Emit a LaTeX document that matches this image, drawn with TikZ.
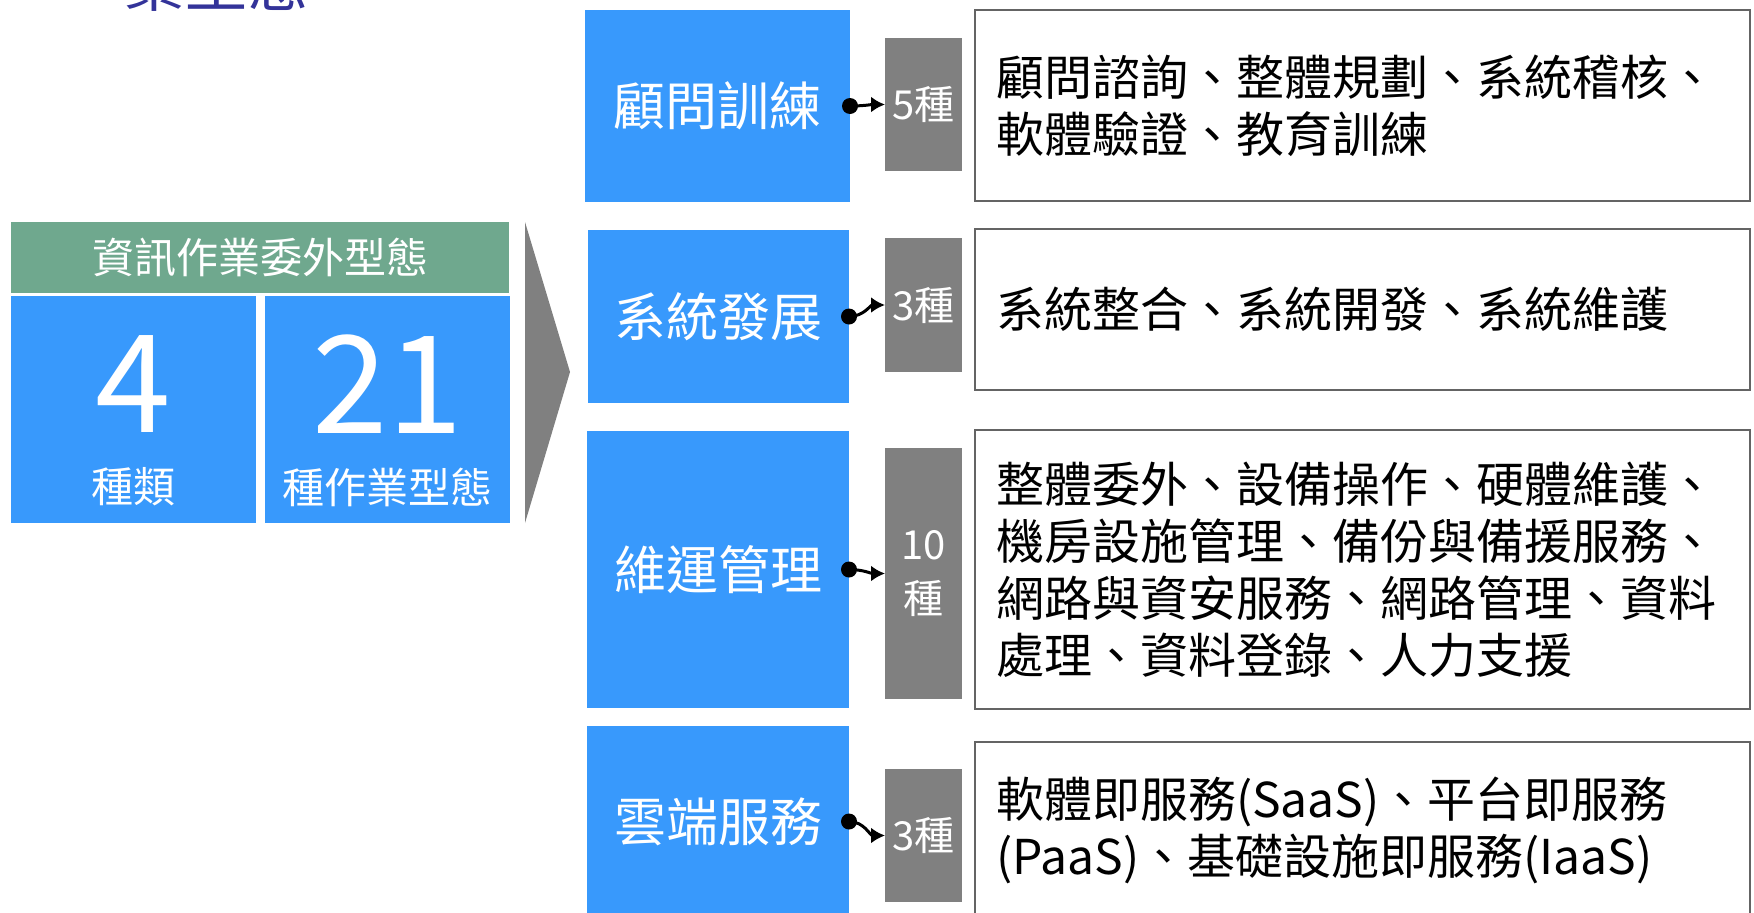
\documentclass[tikz,border=0pt]{standalone}
\usepackage{fontspec}
\setmainfont{Noto Sans CJK TC}
\usetikzlibrary{arrows.meta}
\definecolor{boxblue}{RGB}{56,153,252}
\definecolor{hgreen}{RGB}{111,168,142}
\definecolor{kgray}{RGB}{128,128,128}
\definecolor{titleblue}{RGB}{51,51,153}
\definecolor{wborder}{RGB}{100,100,100}
\begin{document}
\begin{tikzpicture}[x=1pt,y=-1pt,
  solid box/.style={inner sep=0pt, outer sep=0pt, anchor=north west, text=white},
  headbox/.style={solid box, fill=hgreen, font=\fontsize{42pt}{50pt}\selectfont},
  numbox/.style={solid box, fill=boxblue},
  bignum/.style={inner sep=0pt, text=white, font=\fontsize{136pt}{136pt}\selectfont},
  numcap/.style={inner sep=0pt, text=white, font=\fontsize{42pt}{50pt}\selectfont},
  catbox/.style={solid box, fill=boxblue, font=\fontsize{52pt}{62pt}\selectfont},
  countbox/.style={solid box, fill=kgray, align=center, font=\fontsize{40pt}{54pt}\selectfont},
  listbox/.style={draw=wborder, line width=2pt, fill=white, anchor=north west,
    inner xsep=21pt, inner ysep=0pt, outer sep=0pt, text width=733pt, align=left,
    font=\fontsize{48pt}{57pt}\selectfont},
  conn/.style={line width=3pt, -{Latex[length=14pt,width=16pt]}},
  dotc/.style={fill=black}
]
\useasboundingbox (0,0) rectangle (1754,913);
\clip (0,0) rectangle (1754,913);
\fill[white] (0,0) rectangle (1754,913);

% title (cut off at top)
\node[anchor=base west, inner sep=0pt, text=titleblue, font=\fontsize{62pt}{62pt}\selectfont] (title) at (123,6) {業型態};

% left summary
\node[headbox, minimum width=498pt, minimum height=71pt] (head) at (11,222) {資訊作業委外型態};
\node[numbox, minimum width=245pt, minimum height=227pt] (n4) at (11,296) {};
\node[numbox, minimum width=245pt, minimum height=227pt] (n21) at (265,296) {};
\node[bignum] (n4num) at (133.5,384) {4};
\node[numcap] (n4cap) at (133.5,487) {種類};
\node[bignum] (n21num) at (387.5,384) {21};
\node[numcap] (n21cap) at (387.5,487) {種作業型態};

% chevron
\fill[kgray] (525,222) -- (570,372) -- (525,523) -- cycle;

% categories
\node[catbox, minimum width=265pt, minimum height=192pt] (b1) at (585,10) {顧問訓練};
\node[catbox, minimum width=261pt, minimum height=173pt] (b2) at (588,230) {系統發展};
\node[catbox, minimum width=262pt, minimum height=277pt] (b3) at (587,431) {維運管理};
\node[catbox, minimum width=262pt, minimum height=191pt] (b4) at (587,726) {雲端服務};

% counts
\node[countbox, minimum width=77pt, minimum height=133pt] (g1) at (885,38) {5種};
\node[countbox, minimum width=77pt, minimum height=134pt] (g2) at (885,238) {3種};
\node[countbox, minimum width=77pt, minimum height=251pt] (g3) at (885,448) {10\\種};
\node[countbox, minimum width=77pt, minimum height=133pt] (g4) at (885,769) {3種};

% lists
\node[listbox, minimum height=191pt] (w1) at (975,10) {顧問諮詢、整體規劃、系統稽核、\\軟體驗證、教育訓練};
\node[listbox, minimum height=161pt] (w2) at (975,229) {系統整合、系統開發、系統維護};
\node[listbox, minimum height=279pt] (w3) at (975,430) {整體委外、設備操作、硬體維護、\\機房設施管理、備份與備援服務、\\網路與資安服務、網路管理、資料\\處理、資料登錄、人力支援};
\node[listbox, minimum height=176pt] (w4) at (975,742) {軟體即服務(SaaS)、平台即服務\\(PaaS)、基礎設施即服務(IaaS)};

% connectors
\foreach \i in {1,2,3,4}{
  \draw[conn] (b\i.east) to[out=0,in=180] (g\i.west);
  \fill[dotc] (b\i.east) circle (8pt);
}
\end{tikzpicture}
\end{document}
